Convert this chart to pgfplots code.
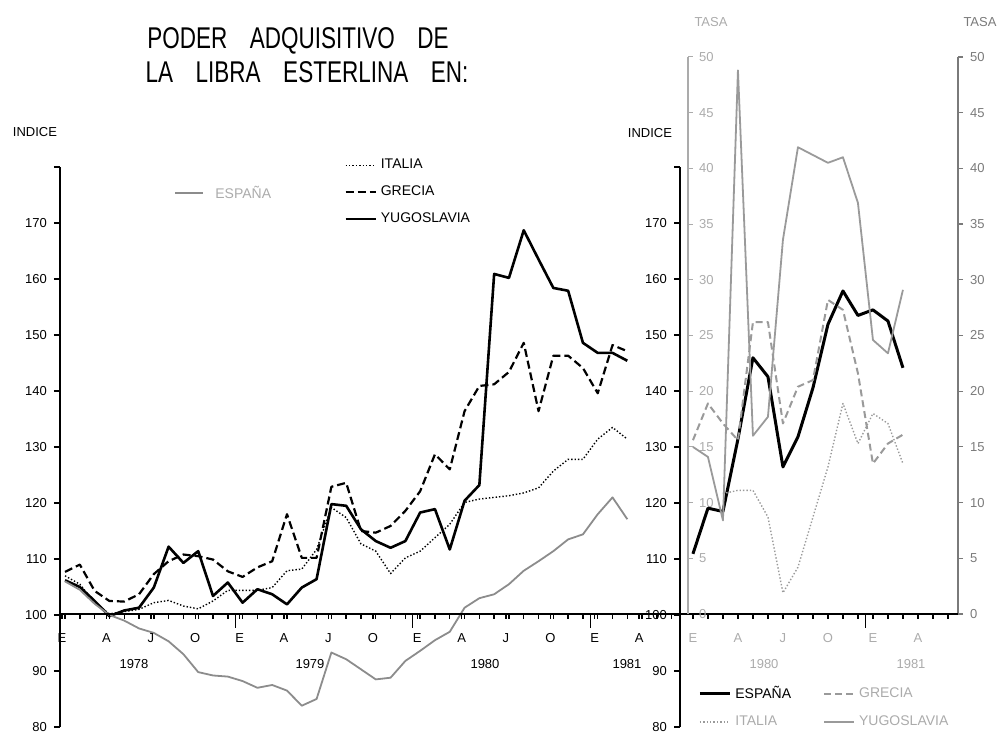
\documentclass[border=0pt]{standalone}
\usepackage{fontspec}
\setmainfont{Liberation Sans}
\usepackage{graphicx}
\usepackage{pgfplots}
\usepackage{pgfplotstable}
\pgfplotsset{compat=1.18}
\definecolor{grisE}{HTML}{8C8C8C}
\definecolor{grisR}{HTML}{9A9A9A}
\definecolor{grisT}{HTML}{ABABAB}
\definecolor{grisD}{HTML}{7A7A7A}
\newcommand\tk{\fontsize{6.5}{7.5}\selectfont}
\newcommand\lgd{\fontsize{7}{8}\selectfont}

% indices mensuales, ene 1978 = 0
\pgfplotstableread{
m esp ita gre yug
0 106.0 107.0 107.7 106.2
1 104.5 105.5 109.0 105.0
2 102.0 102.2 104.3 102.5
3 100.0 100.2 102.5 99.8
4 99.0 100.6 102.4 100.8
5 97.6 101.0 103.7 101.3
6 96.8 102.2 107.3 104.9
7 95.3 102.6 109.6 112.2
8 93.0 101.6 110.8 109.3
9 89.8 101.1 110.5 111.4
10 89.2 102.5 109.9 103.4
11 89.0 104.4 107.8 105.8
12 88.2 104.4 106.8 102.2
13 87.0 104.4 108.5 104.6
14 87.5 104.9 109.6 103.7
15 86.5 107.9 118.0 101.9
16 83.8 108.2 110.2 104.9
17 85.0 111.7 110.2 106.4
18 93.3 119.2 122.9 119.8
19 92.1 117.4 123.6 119.5
20 90.3 112.7 115.0 115.3
21 88.5 111.4 114.7 113.2
22 88.8 107.4 115.9 112.0
23 91.8 110.2 118.6 113.2
24 93.6 111.4 122.1 118.3
25 95.5 113.8 128.7 118.9
26 97.0 116.2 126.0 111.7
27 101.3 120.1 136.4 120.4
28 103.0 120.7 140.9 123.2
29 103.7 121.0 141.2 160.9
30 105.5 121.3 143.4 160.2
31 107.9 121.8 148.6 168.7
32 109.6 122.7 136.4 163.5
33 111.4 125.7 146.3 158.4
34 113.5 127.8 146.3 157.9
35 114.4 127.8 144.1 148.6
36 118.0 131.4 139.6 146.8
37 121.0 133.5 148.2 146.8
38 117.1 131.4 147.1 145.4
}\izq

% tasas, ene 1980 = 0
\pgfplotstableread{
m esp gre ita yug
0 5.4 15.6 nan 15.0
1 9.5 18.9 nan 14.1
2 9.2 17.1 10.8 8.4
3 15.7 15.6 11.1 48.8
4 23.0 26.2 11.1 16.0
5 21.3 26.2 8.7 17.7
6 13.2 17.1 1.9 33.6
7 15.9 20.4 4.2 41.9
8 20.3 21.0 8.7 41.2
9 26.0 28.2 13.2 40.5
10 29.0 27.3 18.9 41.0
11 26.8 21.6 15.3 36.9
12 27.3 13.5 18.0 24.6
13 26.3 15.3 17.1 23.4
14 22.1 16.1 13.5 29.1
}\der

\begin{document}
\begin{tikzpicture}[x=0.5pt,y=0.5pt]
\path[use as bounding box] (0,0) rectangle (1003,733);

% panel izquierdo: datos y eje INDICE
\begin{axis}[
    at={(30pt,3pt)}, anchor=south west,
    scale only axis, width=314pt, height=280pt,
    xmin=-0.34, xmax=42.1, ymin=80, ymax=180,
    axis y line=left, axis x line=none,
    axis line style={-,line width=0.8pt},
    ytick={80,90,...,180},
    yticklabels={80,90,100,110,120,130,140,150,160,170,{}},
    yticklabel style={font=\tk},
    tick align=outside, major tick length=3pt,
    tick style={line width=0.7pt,black},
    clip=false,
    legend style={draw=none, fill=none, at={(0.452,1.022)}, anchor=north west,
        font=\lgd, row sep=3pt, inner sep=0pt},
    legend cell align=left,
    legend image code/.code={\draw[#1] (0pt,0pt) -- (15pt,0pt);},
    line join=round,
]
\addplot[black, densely dotted, line width=0.7pt] table[x=m,y=ita] {\izq};
\addlegendentry{ITALIA}
\addplot[black, dash pattern=on 4pt off 2pt, line width=1.1pt] table[x=m,y=gre] {\izq};
\addlegendentry{GRECIA}
\addplot[black, line width=1.3pt] table[x=m,y=yug] {\izq};
\addlegendentry{YUGOSLAVIA}
\addplot[grisE, line width=0.9pt, forget plot] table[x=m,y=esp] {\izq};
\end{axis}

% eje de tiempo del panel izquierdo (linea 100)
\begin{axis}[
    at={(30pt,59.5pt)}, anchor=south west,
    scale only axis, width=314pt, height=20pt,
    xmin=-0.34, xmax=42.1, ymin=0, ymax=1,
    axis x line=bottom, axis y line=none,
    axis line style={-,line width=0.8pt},
    xtick={-0.2,2.8,5.8,8.8,11.8,14.8,17.8,20.8,23.8,26.8,29.8,32.8,35.8,38.8},
    xticklabels={E,A,J,O,E,A,J,O,E,A,J,O,E,A},
    xticklabel style={font=\tk, yshift=-3.5pt},
    minor xtick={0,1,...,41},
    extra x ticks={11.5,23.5,35.5}, extra x tick labels={},
    extra x tick style={major tick length=7pt},
    tick align=outside, major tick length=2.5pt, minor tick length=2.5pt,
    tick style={line width=0.7pt,black},
]
\end{axis}

% eje INDICE del panel derecho
\begin{axis}[
    at={(340pt,3pt)}, anchor=south west,
    scale only axis, width=10pt, height=280pt,
    xmin=0, xmax=1, ymin=80, ymax=180,
    axis y line=left, axis x line=none,
    axis line style={-,line width=0.8pt},
    ytick={80,90,...,180},
    yticklabels={80,90,100,110,120,130,140,150,160,170,{}},
    yticklabel style={font=\tk},
    tick align=outside, major tick length=3pt,
    tick style={line width=0.7pt,black},
]
\end{axis}

% eje TASA derecho
\begin{axis}[
    at={(344pt,59.5pt)}, anchor=south west,
    scale only axis, width=135pt, height=278.5pt,
    xmin=-0.33, xmax=17.67, ymin=0, ymax=50,
    axis y line*=right, axis x line=none,
    axis line style={-,line width=0.7pt,grisD},
    ytick={0,5,...,50},
    yticklabel style={font=\tk, text=grisD},
    /pgf/number format/assume math mode=true,
    tick align=outside, major tick length=2.5pt,
    tick style={line width=0.6pt,grisD},
]
\end{axis}

% panel derecho: tasas
\begin{axis}[
    at={(344pt,59.5pt)}, anchor=south west,
    scale only axis, width=135pt, height=278.5pt,
    xmin=-0.33, xmax=17.67, ymin=0, ymax=50,
    axis x line=bottom, axis y line=left,
    x axis line style={-,line width=0.8pt,black},
    y axis line style={-,line width=0.6pt,grisT},
    ytick={0,5,...,50},
    yticklabel style={font=\tk, text=grisT, anchor=west, xshift=2pt},
    /pgf/number format/assume math mode=true,
    ytick align=inside, xtick align=outside,
    ytick style={line width=0.5pt,grisT},
    xtick style={line width=0.7pt,black},
    major tick length=2.5pt, minor tick length=2.5pt,
    xtick={0,3,...,15},
    xticklabels={E,A,J,O,E,A},
    xticklabel style={font=\tk, text=grisT, yshift=-3.5pt},
    minor xtick={0,1,...,17},
    extra x ticks={11.5}, extra x tick labels={},
    extra x tick style={major tick length=7pt},
    clip=false,
    legend style={draw=none, fill=none, at={(0.037,-0.122)}, anchor=north west,
        font=\lgd, row sep=3pt, inner sep=0pt,
        /tikz/column 2/.style={column sep=14pt}},
    legend columns=2,
    legend cell align=left,
    legend image code/.code={\draw[#1] (0pt,0pt) -- (15pt,0pt);},
    line join=round,
]
\addplot[black, line width=1.5pt] table[x=m,y=esp] {\der};
\addlegendentry{ESPAÑA}
\addplot[grisR, dash pattern=on 3.5pt off 2pt, line width=1pt] table[x=m,y=gre] {\der};
\addlegendentry{\textcolor{grisT}{GRECIA}}
\addplot[grisR, densely dotted, line width=0.7pt] table[x=m,y=ita] {\der};
\addlegendentry{\textcolor{grisT}{ITALIA}}
\addplot[grisR, line width=0.9pt] table[x=m,y=yug] {\der};
\addlegendentry{\textcolor{grisT}{YUGOSLAVIA}}
\end{axis}

% titulos y rotulos
\node[font=\fontsize{15}{18}\selectfont] at (298,692) {\scalebox{0.75}[1]{PODER\quad ADQUISITIVO\quad DE}};
\node[font=\fontsize{15}{18}\selectfont] at (307,661) {\scalebox{0.75}[1]{LA\quad LIBRA\quad ESTERLINA\quad EN:}};
\node[font=\tk] at (35,601) {INDICE};
\node[font=\tk] at (650,600) {INDICE};
\node[font=\tk, text=grisT] at (711,711) {TASA};
\node[font=\tk, text=grisD] at (980,711) {TASA};
\draw[grisE, line width=0.9pt] (175,540) -- (203,540);
\node[font=\lgd, text=grisT, anchor=west, inner sep=0pt] at (215,541) {ESPAÑA};
\node[font=\tk] at (134,69) {1978};
\node[font=\tk] at (310,69) {1979};
\node[font=\tk] at (485,69) {1980};
\node[font=\tk] at (627,69) {1981};
\node[font=\tk, text=grisT] at (764,69) {1980};
\node[font=\tk, text=grisT] at (911,69) {1981};
\end{tikzpicture}
\end{document}
